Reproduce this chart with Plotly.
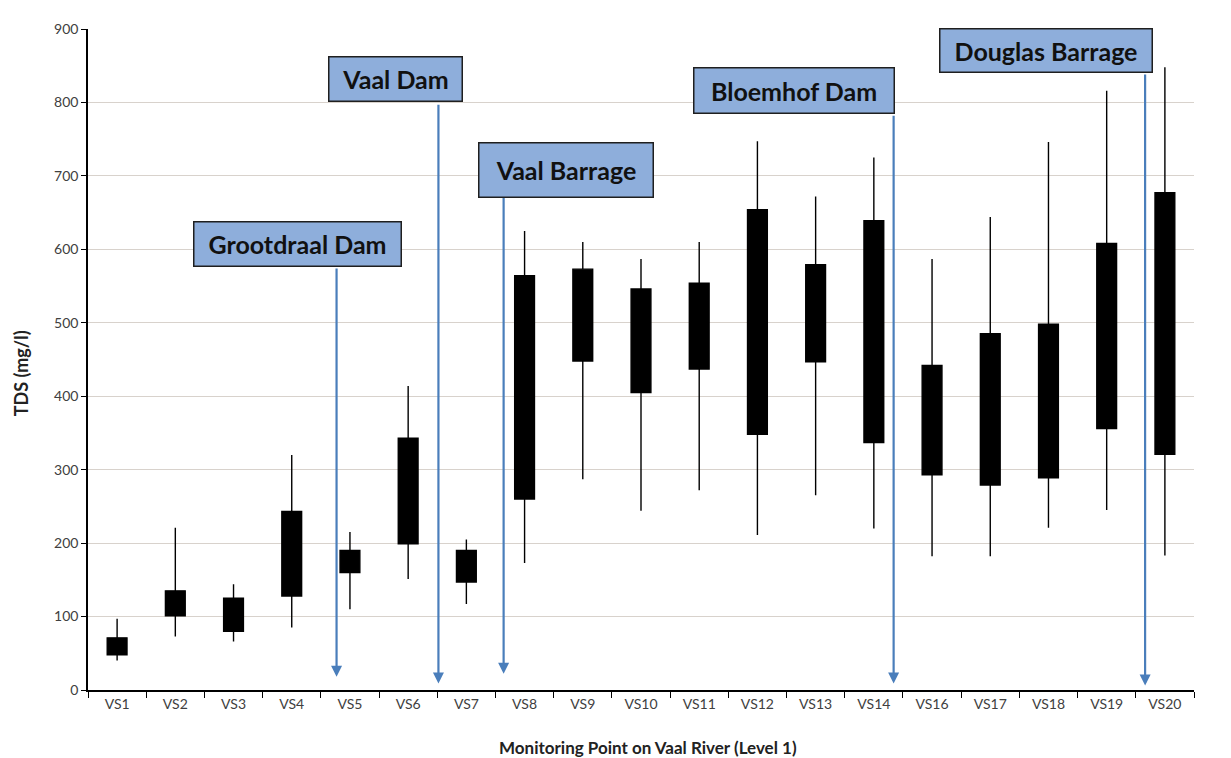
import plotly.graph_objects as go

# ---- data (TDS mg/l) ----
stations = ["VS1", "VS2", "VS3", "VS4", "VS5", "VS6", "VS7", "VS8", "VS9", "VS10",
            "VS11", "VS12", "VS13", "VS14", "VS16", "VS17", "VS18", "VS19", "VS20"]
tds_min = [40, 73, 66, 85, 110, 151, 117, 173, 287, 244,
           272, 211, 265, 220, 182, 182, 221, 245, 183]
tds_q1 = [48, 101, 80, 128, 160, 199, 147, 260, 448, 405,
          437, 348, 447, 337, 293, 279, 289, 356, 321]
tds_q3 = [71, 135, 125, 243, 190, 343, 190, 564, 573, 546,
          554, 654, 579, 639, 442, 485, 498, 608, 677]
tds_max = [97, 221, 144, 320, 215, 414, 205, 625, 610, 587,
           610, 747, 672, 725, 587, 644, 746, 816, 848]

# structures: label, arrow position (category index), arrow tail / tip values
structures = ["Grootdraal Dam", "Vaal Dam", "Vaal Barrage", "Bloemhof Dam", "Douglas Barrage"]
arrow_pos = [3.77, 5.52, 6.64, 13.34, 17.66]
arrow_tail = [576, 799, 672, 784, 840]
arrow_tip = [18, 9, 22, 9, 6]
# label box geometry in page pixels (left, top, right, bottom)
label_boxes = [(193, 216, 402, 262), (328, 50, 463, 96), (478, 136, 654, 192),
               (693, 61, 895, 108), (939, 21, 1153, 66)]

OFF = 8  # page body margin
W, H = 1231 - OFF, 758 - OFF
L, T = 88 - OFF, 22 - OFF
PW, PH = 1106, 668
R, B = W - L - PW, H - T - PH

FONT = "Lato"


def px_x(px):
    return (px - OFF - L) / PW


def px_y(py):
    return (T + PH - (py - OFF)) / PH


fig = go.Figure()
fig.add_trace(go.Box(
    x=stations, q1=tds_q1, median=tds_q1, q3=tds_q3,
    lowerfence=tds_min, upperfence=tds_max,
    fillcolor="black", line=dict(color="black", width=1.4),
    whiskerwidth=0, width=0.34, boxpoints=False, showlegend=False,
    hoverinfo="skip",
))

annotations = []
for pos, tail, tip in zip(arrow_pos, arrow_tail, arrow_tip):
    annotations.append(dict(
        x=pos, y=tip, ax=pos, ay=tail, xref="x", yref="y", axref="x", ayref="y",
        text="", showarrow=True, arrowhead=2, arrowsize=1.0, arrowwidth=2.2,
        arrowcolor="#4a7ebb", standoff=0, startstandoff=0,
    ))

for name, (x0, y0, x1, y1) in zip(structures, label_boxes):
    annotations.append(dict(
        x=px_x((x0 + x1) / 2), y=px_y((y0 + y1) / 2), xref="paper", yref="paper",
        xanchor="center", yanchor="middle",
        text="<b>%s</b>" % name, showarrow=False,
        font=dict(family=FONT, size=25, color="#111111"),
        bgcolor="#8eaedb", bordercolor="#1f1f1f", borderwidth=1.5, borderpad=0,
        width=(x1 - x0) - 3, height=(y1 - y0) - 3, align="center", valign="middle",
    ))

annotations.append(dict(
    x=px_x(648), y=px_y(748), xref="paper", yref="paper",
    xanchor="center", yanchor="middle", showarrow=False,
    text="<b>Monitoring Point on Vaal River (Level 1)</b>",
    font=dict(family=FONT, size=17, color="#222222"),
))
annotations.append(dict(
    x=px_x(21), y=px_y(370), xref="paper", yref="paper",
    xanchor="center", yanchor="middle", showarrow=False, textangle=-90,
    text="<b>TDS (mg/l)</b>",
    font=dict(family=FONT, size=18, color="#222222"),
))

fig.update_layout(
    width=W, height=H,
    margin=dict(l=L, r=R, t=T, b=B, pad=0),
    paper_bgcolor="white", plot_bgcolor="white",
    font=dict(family=FONT, size=14, color="#404040"),
    annotations=annotations,
    showlegend=False,
)
fig.update_xaxes(
    type="category", categoryorder="array", categoryarray=stations,
    range=[-0.5, len(stations) - 0.5],
    tickson="boundaries", ticks="outside", ticklen=6, tickcolor="black", tickwidth=1.2,
    showline=True, linecolor="black", linewidth=1.5, showgrid=False,
    tickfont=dict(family=FONT, size=14, color="#404040"),
)
fig.update_yaxes(
    range=[0, 900], dtick=100, tick0=0,
    ticks="outside", ticklen=5, tickcolor="black", tickwidth=1.2,
    showline=True, linecolor="black", linewidth=1.5,
    showgrid=True, gridcolor="#d8d2cc", gridwidth=1, zeroline=False,
    tickfont=dict(family=FONT, size=14, color="#404040"),
)

fig.write_html("out.html")
